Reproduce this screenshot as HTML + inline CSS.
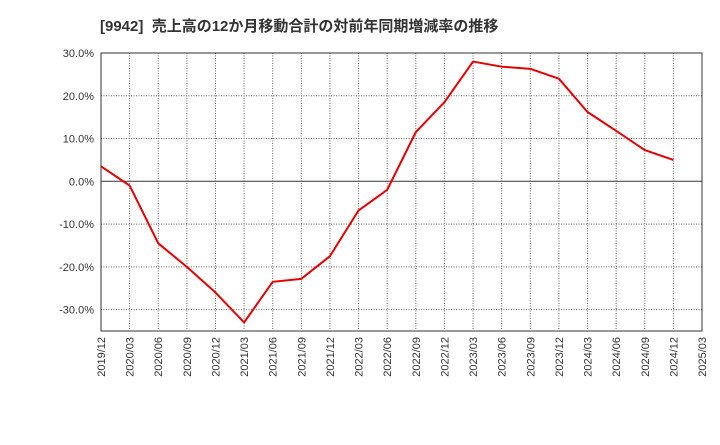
<!DOCTYPE html>
<html><head><meta charset="utf-8"><style>
body{margin:0;background:#fff;font-family:"Liberation Sans","Noto Sans CJK JP",sans-serif;}
</style></head><body>
<svg width="720" height="440" xmlns="http://www.w3.org/2000/svg" id="chart">
<text x="100" y="31" font-size="15" font-weight="bold" fill="#333" font-family="Liberation Sans, Noto Sans CJK JP, sans-serif">[9942]&#160;&#160;売上高の12か月移動合計の対前年同期増減率の推移</text>
<g id="grid"></g><g id="axes"></g><g id="series"></g>
</svg>
<script>
const categories=["2019/12","2020/03","2020/06","2020/09","2020/12","2021/03","2021/06","2021/09","2021/12","2022/03","2022/06","2022/09","2022/12","2023/03","2023/06","2023/09","2023/12","2024/03","2024/06","2024/09","2024/12","2025/03"];
const values=[3.5,-1,-14.5,-20,-26,-33,-23.5,-22.8,-17.5,-6.8,-2,11.5,18.5,28,26.8,26.3,24,16.2,11.8,7.3,5];
const yTicks=[30,20,10,0,-10,-20,-30];
const yTickLabels=["30.0%","20.0%","10.0%","0.0%","-10.0%","-20.0%","-30.0%"];
const L=101,R=702,T=53,B=331,yMax=30,yMin=-35;
const xs=i=>L+(R-L)*i/(categories.length-1);
const ys=v=>T+(yMax-v)*(B-T)/(yMax-yMin);
const NS="http://www.w3.org/2000/svg";
const g=document.getElementById('grid'),a=document.getElementById('axes'),s=document.getElementById('series');
function mk(tag,attrs,p){const e=document.createElementNS(NS,tag);for(const k in attrs)e.setAttribute(k,attrs[k]);p.appendChild(e);return e;}
categories.forEach((c,i)=>{
  const x=xs(i);
  if(i>0&&i<categories.length-1){
    const l=mk('line',{x1:x,x2:x,y1:T,y2:B,stroke:'#666','stroke-width':1,'stroke-dasharray':'1,1.5'},g);
    
    
  }
  const t=mk('text',{x:0,y:0,'font-size':11,fill:'#333','text-anchor':'end',transform:`translate(${x+4},${B+6}) rotate(-90)`},a);
  t.textContent=c;
  
  
});
yTicks.forEach((v,i)=>{
  const y=ys(v);
  const l=mk('line',{x1:L,x2:R,y1:y,y2:y,stroke:v===0?'#333':'#666','stroke-width':1,'stroke-dasharray':v===0?'none':'1,1.5'},g);
  
  
  const t=mk('text',{x:L-7,y:y+4,'font-size':11,fill:'#333','text-anchor':'end'},a);
  t.textContent=yTickLabels[i];
  
  
});
const fr=mk('rect',{x:L,y:T,width:R-L,height:B-T,fill:'none',stroke:'#333','stroke-width':1},a);


const pts=values.map((v,i)=>xs(i)+','+ys(v)).join(' ');
const pl=mk('polyline',{points:pts,fill:'none',stroke:'#e60000','stroke-width':2,'stroke-linejoin':'round'},s);


</script>
</body></html>
